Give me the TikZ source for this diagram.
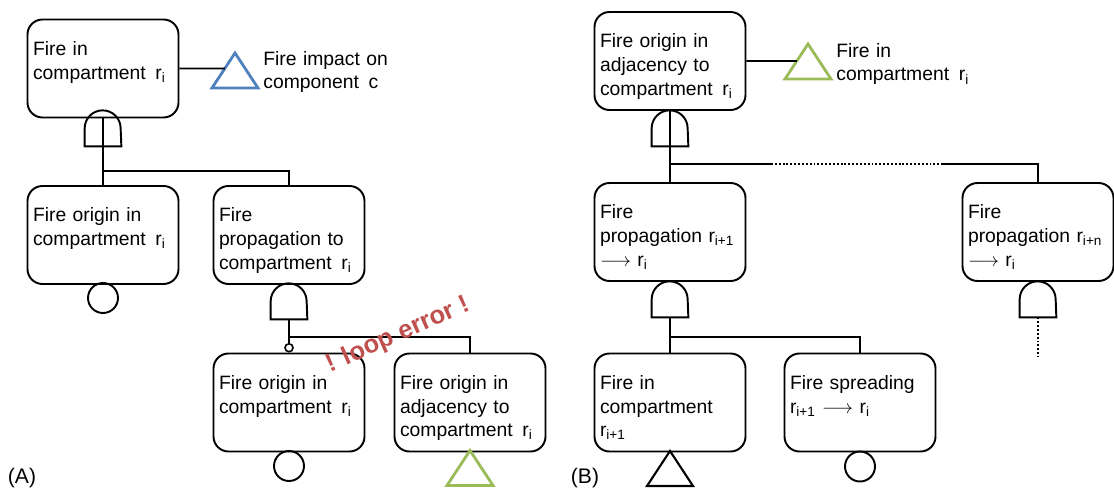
\documentclass[tikz,border=0pt]{standalone}
\usepackage{fontspec}
\setmainfont{Liberation Sans}
\usepackage{tikz}
\usetikzlibrary{shapes.geometric}
\usetikzlibrary{calc}
\definecolor{triblue}{RGB}{79,129,189}
\definecolor{trigreen}{RGB}{155,187,89}
\definecolor{looperr}{RGB}{192,80,77}
\tikzset{eventbox/.style={draw, line width=1.1pt, rounded corners=0.3cm, align=left, text width=2.8cm, inner xsep=0.11cm, inner ysep=0pt, text height=0.72cm, text depth=1.24cm, font=\fontsize{11}{13.4}\selectfont}}
\tikzset{gatebox/.style={minimum width=0.72cm, minimum height=0.72cm, inner sep=0pt}}
\tikzset{basiccirc/.style={draw, circle, line width=1.1pt, minimum size=0.6cm, inner sep=0pt}}
\tikzset{condcirc/.style={draw, circle, line width=0.9pt, fill=white, minimum size=0.16cm, inner sep=0pt}}
\tikzset{transfer/.style={draw, isosceles triangle, isosceles triangle stretches, shape border rotate=90, line width=1.6pt, minimum width=0.92cm, minimum height=0.7cm, inner sep=0pt, outer sep=0pt}}
\tikzset{sidetext/.style={align=left, text width=3cm, inner sep=0pt, text height=0.3cm, font=\fontsize{11}{13.4}\selectfont}}
\tikzset{conn/.style={line width=1.1pt}}
\tikzset{fineDots/.style={line width=1.1pt, dash pattern=on 1.1pt off 1.1pt}}
\newcommand{\drawgate}[1]{\draw[conn] (#1.south west) -- ++(0,0.36) arc[start angle=180, end angle=0, radius=0.36] -- (#1.south east) -- cycle;}

\begin{document}
\begin{tikzpicture}
\useasboundingbox (0,0) rectangle (22.28,9.84);

% (A)
\node[eventbox] (a1) at (2.06, 8.47) {Fire in\\compartment\,\ r\textsubscript{i}};
\node[transfer, draw=triblue, anchor=apex] (ta1) at (4.70, 8.78) {};
\node[sidetext, anchor=north west] (ia1) at (5.26, 8.84) {Fire impact on\\component\,\ c};
\draw[conn] (a1.east) -- (intersection cs: first line={(a1.east)--($(a1.east)+(1,0)$)}, second line={(ta1.apex)--(ta1.left corner)});

\node[gatebox] (g1) at (2.06, 7.28) {};
\drawgate{g1}

\node[eventbox] (a2) at (2.06, 5.14) {Fire origin in\\compartment\,\ r\textsubscript{i}};
\node[eventbox] (a3) at (5.78, 5.14) {Fire\\propagation to\\compartment\,\ r\textsubscript{i}};
\coordinate (j1) at (2.06, 6.42);
\draw[conn] (a1.south) -- (a2.north);
\draw[conn] (j1) -| (a3.north);

\node[basiccirc] (c2) at (2.06, 3.88) {};

\node[gatebox] (g2) at (5.78, 3.82) {};
\drawgate{g2}

\node[eventbox] (a4) at (5.78, 1.79) {Fire origin in\\compartment\,\ r\textsubscript{i}};
\node[eventbox] (a5) at (9.40, 1.79) {Fire origin in\\adjacency to\\compartment\,\ r\textsubscript{i}};
\node[condcirc, anchor=south] (oc) at (a4.north) {};
\coordinate (j2) at (5.78, 3.10);
\draw[conn] (g2.south) -- (j2) -- (oc.north);
\draw[conn] (j2) -| (a5.north);

\node[basiccirc] (c4) at (5.78, 0.52) {};
\node[transfer, draw=trigreen, anchor=apex] (ta5) at ($(a5.south)+(0,0.04)$) {};

\node[text=looperr, font=\fontsize{14.5}{16}\selectfont\bfseries, rotate=24] (err) at (7.96, 3.14) {! loop error !};
\node[font=\fontsize{12}{14}\selectfont] (labA) at (0.44, 0.28) {(A)};

% (B)
\node[eventbox] (b1) at (13.40, 8.62) {Fire origin in\\adjacency to\\compartment\,\ r\textsubscript{i}};
\node[transfer, draw=trigreen, anchor=apex] (tb1) at (16.16, 8.96) {};
\node[sidetext, anchor=north west] (ib1) at (16.72, 9.00) {Fire in\\compartment\,\ r\textsubscript{i}};
\draw[conn] (b1.east) -- (intersection cs: first line={(b1.east)--($(b1.east)+(1,0)$)}, second line={(tb1.apex)--(tb1.left corner)});

\node[gatebox] (g3) at (13.40, 7.28) {};
\drawgate{g3}

\node[eventbox] (b2) at (13.40, 5.20) {Fire\\propagation r\textsubscript{i+1}\\$\longrightarrow$ r\textsubscript{i}};
\node[eventbox] (b4) at (20.76, 5.20) {Fire\\propagation r\textsubscript{i+n}\\$\longrightarrow$ r\textsubscript{i}};
\coordinate (j3) at (13.40, 6.56);
\coordinate (d3) at (15.42, 6.56);
\coordinate (e3) at (18.82, 6.56);
\draw[conn] (b1.south) -- (b2.north);
\draw[conn] (j3) -- (d3);
\draw[fineDots] (d3) -- (e3);
\draw[conn] (e3) -| (b4.north);

\node[gatebox] (g4) at (13.40, 3.86) {};
\drawgate{g4}
\node[gatebox] (g5) at (20.76, 3.86) {};
\drawgate{g5}
\coordinate (e5) at (20.76, 2.70);
\draw[fineDots] (g5.south) -- (e5);

\node[eventbox] (b3) at (13.40, 1.79) {Fire in\\compartment\\r\textsubscript{i+1}};
\node[eventbox] (b5) at (17.20, 1.79) {Fire spreading\\r\textsubscript{i+1} $\longrightarrow$ r\textsubscript{i}};
\coordinate (j4) at (13.40, 3.10);
\draw[conn] (g4.south) -- (b3.north);
\draw[conn] (j4) -| (b5.north);

\node[transfer, line width=1.2pt, anchor=apex] (tb3) at ($(b3.south)+(0,0.03)$) {};
\node[basiccirc] (c5) at (17.20, 0.51) {};

\node[font=\fontsize{12}{14}\selectfont] (labB) at (11.70, 0.28) {(B)};

\end{tikzpicture}
\end{document}
